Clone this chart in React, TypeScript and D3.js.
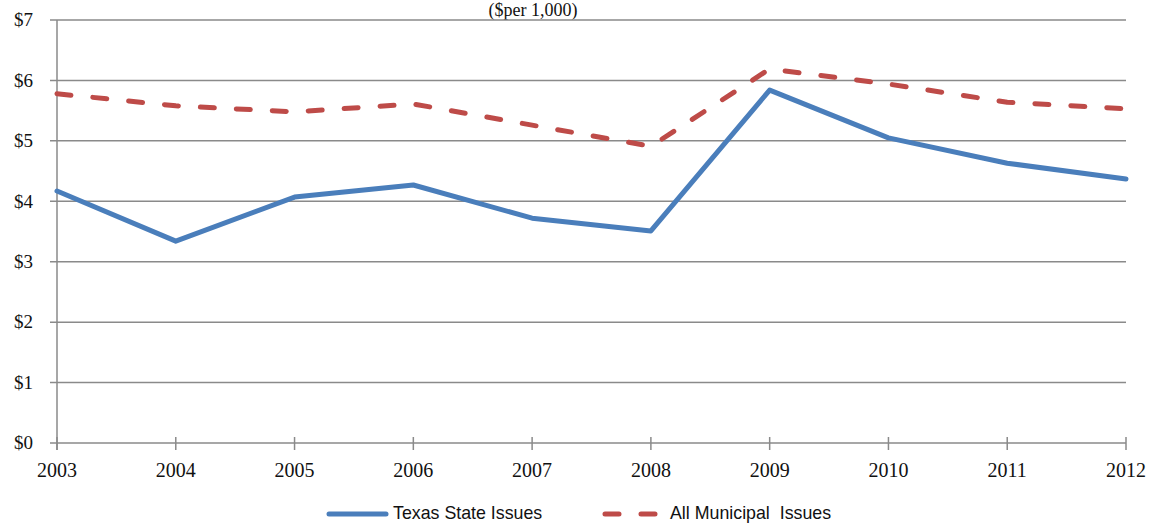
import React from "react";
import * as d3 from "d3";

const years = ["2003", "2004", "2005", "2006", "2007", "2008", "2009", "2010", "2011", "2012"];
const texasState = [4.17, 3.34, 4.07, 4.27, 3.72, 3.51, 5.84, 5.05, 4.63, 4.37];
const allMunicipal = [5.78, 5.58, 5.48, 5.61, 5.26, 4.91, 6.19, 5.94, 5.64, 5.53];
const yTicks = [0, 1, 2, 3, 4, 5, 6, 7];
const subtitle = "($per 1,000)";
const legendLabels = ["Texas State Issues", "All Municipal  Issues"];

const W = 1149;
const H = 524;
const left = 57;
const right = 1126;
const top = 20;
const bottom = 443;

const BLUE = "#4a7ebb";
const RED = "#be4b48";
const GRID = "#8a8a8a";
const SERIF = "'Liberation Serif', 'DejaVu Serif', serif";
const SANS = "'Liberation Sans', Arial, sans-serif";

export default function App() {
  const x = d3.scalePoint<string>().domain(years).range([left, right]).padding(0);
  const y = d3.scaleLinear().domain([0, 7]).range([bottom, top]);

  const line = d3
    .line<number>()
    .x((_, i) => x(years[i]) as number)
    .y((d) => y(d));

  return (
    <svg
      width={W}
      height={H}
      style={{ position: "absolute", left: 0, top: 0, background: "#fff" }}
    >
      <text x={533} y={16} fontFamily={SERIF} fontSize={18} textAnchor="middle" fill="#111">
        {subtitle}
      </text>

      {/* horizontal gridlines with left tick marks and labels */}
      {yTicks.map((t) => (
        <g key={t}>
          <line x1={50} x2={right} y1={y(t)} y2={y(t)} stroke={GRID} strokeWidth={1.5} />
          <text
            x={33}
            y={y(t)}
            dy="0.33em"
            textAnchor="end"
            fontFamily={SERIF}
            fontSize={19}
            fill="#111"
          >
            {"$" + t}
          </text>
        </g>
      ))}

      {/* vertical axis */}
      <line x1={left} x2={left} y1={top} y2={bottom + 7} stroke={GRID} strokeWidth={1.5} />

      {/* category ticks and labels */}
      {years.map((yr) => (
        <g key={yr}>
          <line
            x1={x(yr)}
            x2={x(yr)}
            y1={bottom - 6}
            y2={bottom + 7}
            stroke={GRID}
            strokeWidth={1.5}
          />
          <text
            x={x(yr)}
            y={477}
            textAnchor="middle"
            fontFamily={SERIF}
            fontSize={20}
            fill="#111"
          >
            {yr}
          </text>
        </g>
      ))}

      {/* series */}
      <path
        d={line(allMunicipal) ?? ""}
        fill="none"
        stroke={RED}
        strokeWidth={5}
        strokeDasharray="14 22"
        strokeLinecap="round"
        strokeLinejoin="round"
      />
      <path
        d={line(texasState) ?? ""}
        fill="none"
        stroke={BLUE}
        strokeWidth={5}
        strokeLinecap="round"
        strokeLinejoin="round"
      />

      {/* legend */}
      <line x1={329} x2={386} y1={514} y2={514} stroke={BLUE} strokeWidth={5} strokeLinecap="round" />
      <text x={393} y={519} fontFamily={SANS} fontSize={17.8} fill="#111">
        {legendLabels[0]}
      </text>
      <line
        x1={605}
        x2={660}
        y1={514}
        y2={514}
        stroke={RED}
        strokeWidth={5}
        strokeDasharray="14 22"
        strokeLinecap="round"
      />
      <text x={670} y={519} fontFamily={SANS} fontSize={17.8} fill="#111" style={{ whiteSpace: "pre" }}>
        {legendLabels[1]}
      </text>
    </svg>
  );
}
